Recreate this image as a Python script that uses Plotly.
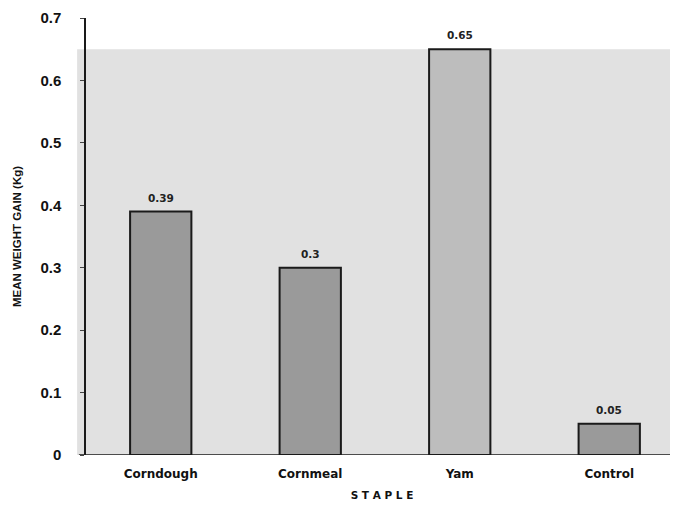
import plotly.graph_objects as go

categories = ["Corndough", "Cornmeal", "Yam", "Control"]
values = [0.39, 0.3, 0.65, 0.05]
value_labels = ["0.39", "0.3", "0.65", "0.05"]
bar_colors = ["#9a9a9a", "#9a9a9a", "#bdbdbd", "#9a9a9a"]
y_ticks = [0, 0.1, 0.2, 0.3, 0.4, 0.5, 0.6, 0.7]
y_tick_labels = ["0", "0.1", "0.2", "0.3", "0.4", "0.5", "0.6", "0.7"]

fig = go.Figure()
fig.add_trace(go.Bar(
    x=categories, y=values, width=0.41,
    marker=dict(color=bar_colors, line=dict(color="#1a1a1a", width=2)),
))

for c, v, t in zip(categories, values, value_labels):
    fig.add_annotation(x=c, y=v, text=t, showarrow=False, yanchor="bottom", yshift=6,
                       font=dict(family="DejaVu Sans", size=10.5, color="#222222", weight="bold"))

# gray panel behind plot
fig.add_shape(type="rect", xref="paper", yref="y", x0=-0.015, x1=1.02, y0=-0.012, y1=0.65,
              fillcolor="#e1e1e1", line=dict(width=0), layer="below")
# x axis baseline extension
fig.add_shape(type="line", xref="paper", yref="y", x0=-0.012, x1=1.02, y0=0, y1=0,
              line=dict(color="#1a1a1a", width=1.5), layer="above")

fig.update_layout(
    width=670, height=499,
    margin=dict(l=78, r=0, t=10, b=52),
    paper_bgcolor="white", plot_bgcolor="rgba(0,0,0,0)",
    showlegend=False,
    font=dict(family="Liberation Sans, Arial", color="#111111"),
)
fig.update_xaxes(
    range=[-0.5, 3.46], showgrid=False, showline=False, ticks="", automargin=False,
    ticklabelstandoff=10,
    tickfont=dict(family="DejaVu Sans", size=12, color="#111111", weight="bold"),
    title=dict(text="S T A P L E", standoff=11,
               font=dict(family="DejaVu Sans", size=10.5, color="#111111", weight="bold")),
)
fig.update_yaxes(
    range=[0, 0.7], tickvals=y_ticks, ticktext=y_tick_labels, automargin=False,
    showgrid=False, zeroline=False, showline=True, linecolor="#1a1a1a", linewidth=1.5,
    ticks="outside", ticklen=4, tickcolor="#444444", ticklabelstandoff=16,
    tickfont=dict(family="Liberation Sans, Arial", size=15, color="#111111", weight="bold"),
    title=dict(text="MEAN WEIGHT GAIN (Kg)", standoff=16,
               font=dict(family="Liberation Sans, Arial", size=11.5, color="#111111", weight="bold")),
)

fig.write_html("out.html")
